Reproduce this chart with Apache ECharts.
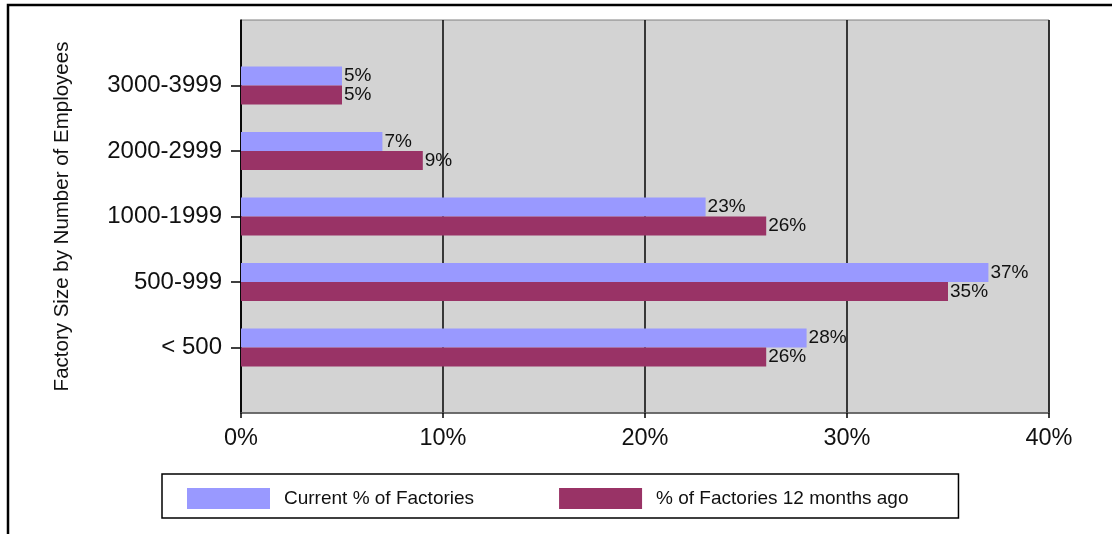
<!DOCTYPE html>
<html>
<head>
<meta charset="utf-8">
<script src="https://cdn.jsdelivr.net/npm/echarts@6/dist/echarts.min.js"></script>
<style>
  html, body { margin: 0; padding: 0; background: #fff; }
  #chart { width: 1112px; height: 534px; }
</style>
</head>
<body>
<div id="chart"></div>
<script>
// Factory size bands, bottom to top
const categories = ['< 500', '500-999', '1000-1999', '2000-2999', '3000-3999'];
// Share of factories in each size band (%)
const currentShare = [28, 37, 23, 7, 5];
const shareYearAgo = [26, 35, 26, 9, 5];
const seriesNames = ['Current % of Factories', '% of Factories 12 months ago'];
const xTicks = [0, 10, 20, 30, 40];

const FONT = '"Liberation Sans", Arial, sans-serif';

// Empty slots above and below keep a margin inside the plot frame
const pad = arr => [null, ...arr, null];
const axisCats = ['', ...categories, ''];

const chart = echarts.init(document.getElementById('chart'), null, { renderer: 'canvas' });

const labelStyle = {
  show: true,
  position: 'right',
  distance: 2,
  formatter: p => p.value + '%',
  color: '#111',
  fontFamily: FONT,
  fontSize: 19
};

chart.setOption({
  animation: false,
  backgroundColor: '#fff',
  textStyle: { fontFamily: FONT },
  graphic: [{
    type: 'rect',
    z: -10,
    shape: { x: 8, y: 5, width: 1120, height: 545 },
    style: { fill: 'none', stroke: '#000', lineWidth: 2.5 }
  }],
  grid: {
    left: 241, right: 63, top: 20, bottom: 121,
    show: true,
    backgroundColor: '#d3d3d3',
    borderColor: '#808080',
    borderWidth: 1
  },
  legend: {
    left: 162, top: 474,
    data: seriesNames,
    itemWidth: 83, itemHeight: 21,
    itemGap: 85,
    padding: [14, 50, 9, 25],
    borderColor: '#000', borderWidth: 1.5,
    backgroundColor: '#fff',
    icon: 'rect',
    textStyle: { fontFamily: FONT, fontSize: 19, color: '#111', padding: [0, 0, 0, 9] }
  },
  xAxis: {
    type: 'value',
    min: xTicks[0], max: xTicks[xTicks.length - 1], interval: 10,
    axisLine: { show: true, lineStyle: { color: '#555', width: 1.5 } },
    axisTick: { show: true, length: 5, lineStyle: { color: '#000', width: 1.5 } },
    axisLabel: { formatter: '{value}%', fontFamily: FONT, fontSize: 23.5, color: '#111', margin: 14 },
    splitLine: { show: true, lineStyle: { color: '#111', width: 1.6 } }
  },
  yAxis: {
    type: 'category',
    data: axisCats,
    boundaryGap: false,
    name: 'Factory Size by Number of Employees',
    nameLocation: 'middle',
    nameGap: 168,
    nameTextStyle: { fontFamily: FONT, fontSize: 20.5, color: '#111' },
    axisLine: { show: true, lineStyle: { color: '#000', width: 1.6 } },
    axisTick: {
      show: true, length: 10, interval: (i, v) => v !== '',
      lineStyle: { color: '#000', width: 1.5 }
    },
    axisLabel: { fontFamily: FONT, fontSize: 24, color: '#111', margin: 19, interval: 0 },
    splitLine: { show: false }
  },
  series: [
    {
      name: seriesNames[0],
      type: 'bar',
      data: pad(currentShare),
      barWidth: 19,
      barGap: '0%',
      itemStyle: { color: '#9999ff' },
      label: labelStyle
    },
    {
      name: seriesNames[1],
      type: 'bar',
      data: pad(shareYearAgo),
      barWidth: 19,
      barGap: '0%',
      itemStyle: { color: '#993366' },
      label: labelStyle
    }
  ]
});
</script>
</body>
</html>
